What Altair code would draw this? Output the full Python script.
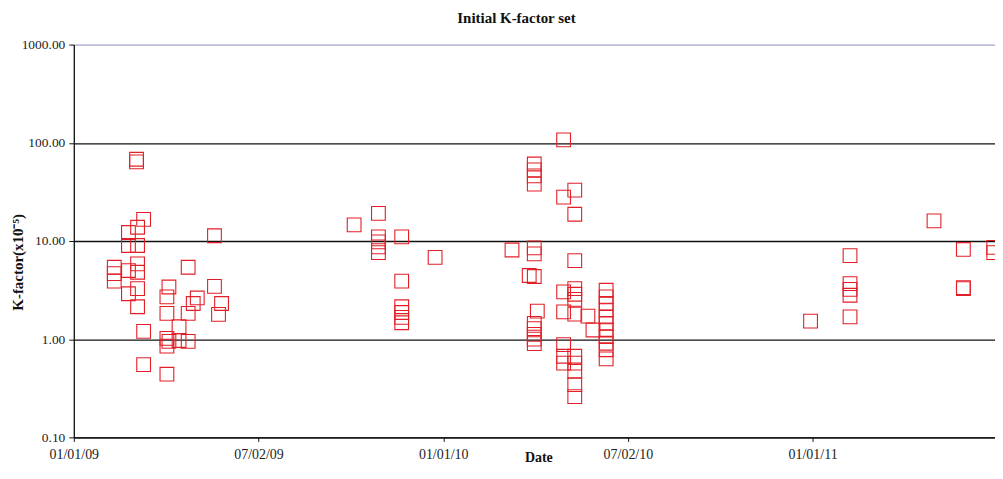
import altair as alt
import pandas as pd

# Measurement dates (one entry per plotted point)
dates = (
    ["2009-02-10"] * 3 + ["2009-02-24"] * 4 + ["2009-03-04"] * 2 + ["2009-03-05"] * 6
    + ["2009-03-11"] * 3 + ["2009-04-03"] * 5 + ["2009-04-05"] * 2 + ["2009-04-15"] * 2
    + ["2009-04-24"] * 3 + ["2009-04-29", "2009-05-03"] + ["2009-05-20"] * 2
    + ["2009-05-24", "2009-05-27"]
    + ["2009-10-05"] + ["2009-10-29"] * 5 + ["2009-11-21"] * 6 + ["2009-12-24"]
    + ["2010-03-10", "2010-03-27"] + ["2010-04-01"] * 12 + ["2010-04-04"]
    + ["2010-04-30"] * 7 + ["2010-05-11"] * 12 + ["2010-05-24", "2010-05-29"]
    + ["2010-06-11"] * 11
    + ["2010-12-30"] + ["2011-02-07"] * 5 + ["2011-05-01"] + ["2011-05-30"] * 3
    + ["2011-06-29"] * 2
)

# K-factor values (x10^-5)
kfactor = [
    5.4, 4.65, 3.9,
    12.2, 9.0, 5.0, 2.9,
    64, 68,
    13.8, 9.0, 5.85, 4.8, 3.27, 2.14,
    16.6, 1.2, 0.55,
    2.7, 1.83, 1.02, 0.85, 0.44,
    3.4, 0.95,
    1.34, 0.97,
    5.4, 1.83, 0.95,
    2.31, 2.63,
    11.3, 3.45,
    1.79, 2.31,
    14.6,
    19.1, 11.0, 9.8, 8.7, 7.6,
    11.0, 3.9, 2.14, 1.87, 1.67, 1.47,
    6.8,
    8.1, 4.45,
    60.8, 53, 46, 38, 8.5, 7.4, 4.35, 1.45, 1.28, 1.12, 1.0, 0.9,
    1.93,
    107, 28, 3.03, 1.9, 0.88, 0.67, 0.57,
    33, 18.7, 6.3, 3.27, 2.87, 2.54, 1.8, 0.67, 0.57, 0.47, 0.345, 0.26,
    1.72, 1.24,
    3.15, 2.7, 2.31, 1.98, 1.69, 1.45, 1.24, 1.06, 0.91, 0.78, 0.63,
    1.53,
    7.1, 3.68, 3.22, 2.8, 1.69,
    16.0,
    8.2, 3.35, 3.27,
    8.6, 7.6,
]

y_ticks = [0.1, 1, 10, 100, 1000]
x_ticks = [
    "2009-01-01T00:00:00", "2009-07-02T12:00:00", "2010-01-01T00:00:00",
    "2010-07-02T12:00:00", "2011-01-01T00:00:00",
]
x_domain = ["2009-01-01T00:00:00", "2011-06-30T06:00:00"]

df = pd.DataFrame({"date": dates, "k": kfactor})


def to_dt(t):
    return alt.DateTime(year=int(t[0:4]), month=int(t[5:7]), date=int(t[8:10]),
                        hours=int(t[11:13]))


x_tick_values = [to_dt(t) for t in x_ticks]
x_dom = [to_dt(t) for t in x_domain]

serif = "Liberation Serif"

chart = alt.Chart(df).mark_point(
    shape="square", filled=False, size=190, color="#e21f26",
    strokeWidth=1.1, opacity=1, clip=True
).encode(
    x=alt.X(
        "date:T",
        scale=alt.Scale(domain=x_dom, nice=False),
        axis=alt.Axis(
            values=x_tick_values, format="%m/%d/%y", title="Date",
            grid=False, tickSize=4, labelPadding=6, labelFontSize=14,
            labelFont=serif, labelColor="#222", titleFont=serif,
            titleFontSize=14, titleFontWeight="bold", titleColor="#111",
            titleX=466, titleY=20, titleBaseline="middle", titleAlign="center",
            domainColor="#111", domainWidth=1.3, tickColor="#111", labelFlush=False,
        ),
    ),
    y=alt.Y(
        "k:Q",
        scale=alt.Scale(type="log", domain=[0.1, 1000], nice=False),
        axis=alt.Axis(
            values=y_ticks, format=".2f", title="K-factor(x10⁻⁵)",
            grid=True,
            gridColor=alt.condition("datum.value >= 999", alt.value("#a9acd6"), alt.value("#111")),
            gridWidth=1.3, tickSize=5, labelPadding=4, labelFontSize=13.5,
            labelFont=serif, labelColor="#222", titleFont=serif, titleFontSize=15,
            titleFontWeight="bold", titleColor="#111", titleAngle=270,
            titleX=-56, titleY=218, titleBaseline="middle", titleAlign="center",
            domainColor="#111", domainWidth=1.3, tickColor="#111",
        ),
    ),
).properties(
    width=924,
    height=394,
    padding={"left": 66, "top": 36, "right": 0, "bottom": 28},
    autosize=alt.AutoSizeParams(type="none"),
    title=alt.TitleParams(
        "Initial K-factor set", font=serif, fontSize=15, fontWeight="bold",
        color="#111", anchor="middle", offset=12, dx=-18,
    ),
).configure_view(
    stroke="#444", strokeWidth=1.3
).configure(background="white")

chart.save("out.html", embed_options={"renderer": "svg", "actions": False})
